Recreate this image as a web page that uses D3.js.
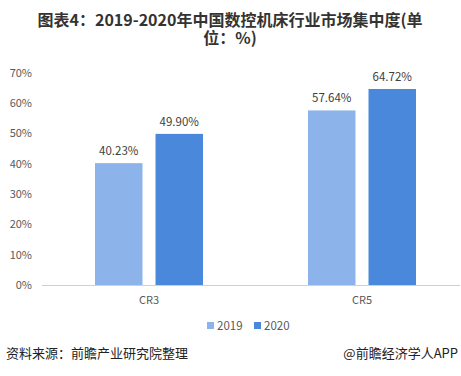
<!DOCTYPE html>
<html>
<head>
<meta charset="utf-8">
<script src="https://cdn.jsdelivr.net/npm/d3@7"></script>
<style>
  body { margin: 0; background: #fff; }
  svg { display: block; font-family: "Noto Sans CJK SC", "Noto Sans", sans-serif; }
</style>
</head>
<body>
<div id="chart"></div>
<script>
const categories = ["CR3", "CR5"]
const series = ["2019", "2020"]
const values2019 = [40.23, 57.64]
const values2020 = [49.90, 64.72]
const yTicks = [0, 10, 20, 30, 40, 50, 60, 70]
const colors = ["#8db4ea", "#4a88dc"]

const width = 461, height = 376
const svg = d3.select("#chart").append("svg")
  .attr("width", width)
  .attr("height", height)

// title, two lines
const title = svg.append("text")
  .attr("text-anchor", "middle")
  .attr("font-size", 16)
  .attr("font-weight", "bold")
  .attr("fill", "#333")
title.append("tspan").attr("x", 230).attr("y", 26).text("图表4：2019-2020年中国数控机床行业市场集中度(单")
title.append("tspan").attr("x", 230).attr("y", 44).text("位：%)")

const x0 = d3.scaleBand().domain(categories).range([42.5, 468.5])
const x1 = d3.scaleBand().domain(series).range([52.5, 160.5]).paddingInner(0.215)
const y = d3.scaleLinear().domain([0, 70]).range([285, 73])

// y labels
svg.append("g").selectAll("text")
  .data(yTicks)
  .join("text")
  .attr("x", 32)
  .attr("y", d => y(d))
  .attr("dy", "0.35em")
  .attr("text-anchor", "end")
  .attr("font-size", 11)
  .attr("fill", "#595959")
  .text(d => d + "%")

const rows = categories.map((c, i) => ({ cat: c, vals: [values2019[i], values2020[i]] }))

const group = svg.append("g").selectAll("g")
  .data(rows)
  .join("g")
  .attr("transform", d => `translate(${x0(d.cat)},0)`)

group.selectAll("rect")
  .data(d => d.vals.map((v, j) => ({ s: series[j], v, j })))
  .join("rect")
  .attr("x", d => x1(d.s))
  .attr("width", x1.bandwidth())
  .attr("y", d => y(d.v))
  .attr("height", d => y(0) - y(d.v))
  .attr("fill", d => colors[d.j])

group.selectAll("text.val")
  .data(d => d.vals.map((v, j) => ({ s: series[j], v })))
  .join("text")
  .attr("class", "val")
  .attr("x", d => x1(d.s) + x1.bandwidth() / 2)
  .attr("y", d => y(d.v) - 8)
  .attr("text-anchor", "middle")
  .attr("font-size", 11.5)
  .attr("fill", "#404040")
  .text(d => d.v.toFixed(2) + "%")

// baseline
svg.append("line")
  .attr("x1", 42).attr("x2", 460)
  .attr("y1", y(0) + 0.5).attr("y2", y(0) + 0.5)
  .attr("stroke", "#d0d0d0")

// category labels
svg.append("g").selectAll("text")
  .data(categories)
  .join("text")
  .attr("x", d => x0(d) + x0.bandwidth() / 2)
  .attr("y", 304)
  .attr("text-anchor", "middle")
  .attr("font-size", 11)
  .attr("fill", "#595959")
  .text(d => d)

// legend
const legendX = [207, 254]
const legend = svg.append("g").selectAll("g")
  .data(series)
  .join("g")
  .attr("transform", (d, i) => `translate(${legendX[i]},326)`)
legend.append("rect")
  .attr("x", 0).attr("y", -4)
  .attr("width", 7).attr("height", 7)
  .attr("fill", (d, i) => colors[i])
legend.append("text")
  .attr("x", 10)
  .attr("dy", "0.35em")
  .attr("font-size", 11.5)
  .attr("fill", "#595959")
  .text(d => d)

// footer
svg.append("text")
  .attr("x", 6).attr("y", 358)
  .attr("font-size", 13)
  .attr("fill", "#222")
  .text("资料来源：前瞻产业研究院整理")
svg.append("text")
  .attr("x", 458).attr("y", 358)
  .attr("text-anchor", "end")
  .attr("font-size", 13)
  .attr("fill", "#222")
  .text("@前瞻经济学人APP")
</script>
</body>
</html>
